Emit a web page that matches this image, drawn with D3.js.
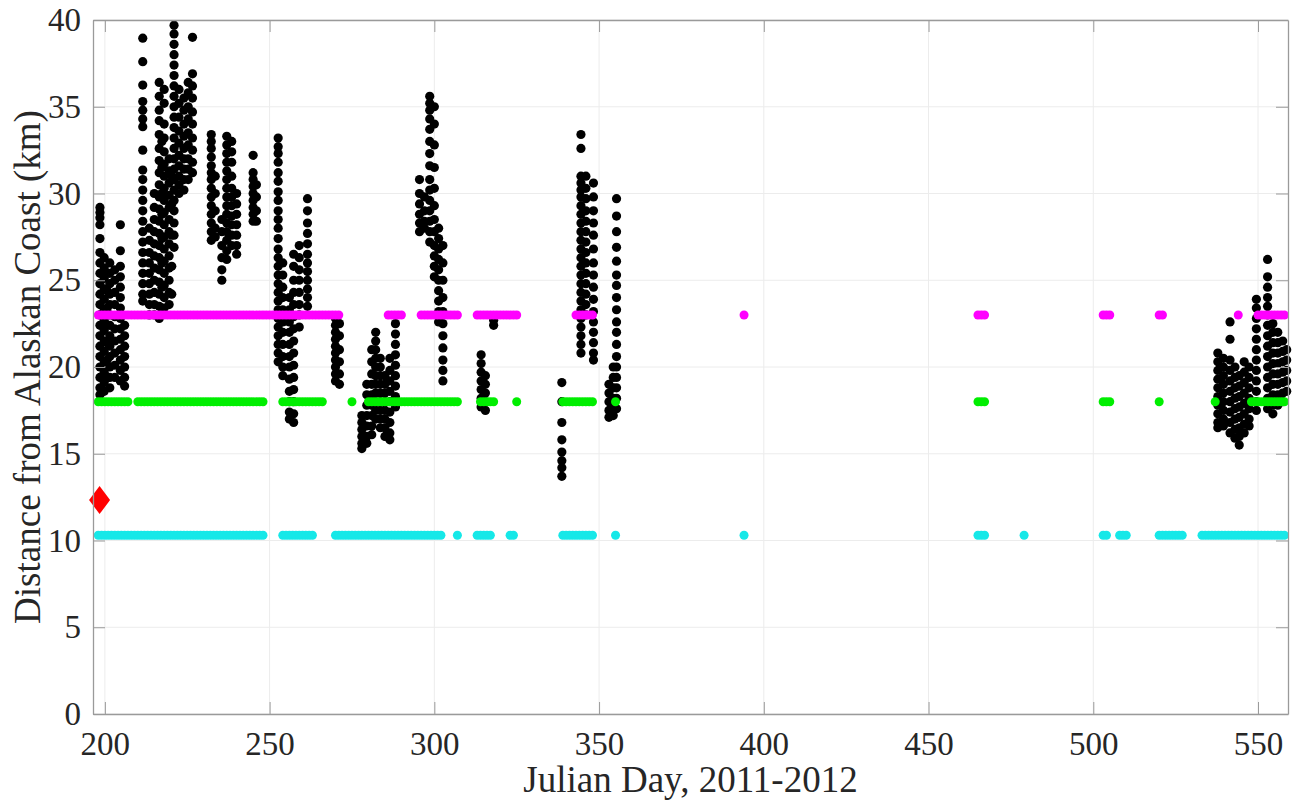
<!DOCTYPE html>
<html><head><meta charset="utf-8">
<script src="https://cdn.jsdelivr.net/npm/d3@7"></script>
<style>
html,body{margin:0;padding:0;background:#fff;}
svg{display:block;}
text{font-family:"Liberation Serif","Times New Roman",Times,serif;}
</style></head>
<body><svg id="chart" width="1297" height="804"></svg>
<script>
// ---------- data ----------
const xTicks = [200, 250, 300, 350, 400, 450, 500, 550];
const yTicks = [0, 5, 10, 15, 20, 25, 30, 35, 40];
const xLabel = "Julian Day, 2011-2012";
const yLabel = "Distance from Alaskan Coast (km)";

// black points: day of each column and the distances measured that day
const blackDays = [198.5,199.8,200.7,201.5,203,204.7,206,211.5,213.5,215,216.5,217.3,218,219.5,220.3,221,222.5,224,225.3,226.6,
  232.3,233.5,235.5,237,238.5,240,245,246,252.6,254,256,257.3,259,261.5,270,271.2,278,279.5,281,282.2,283.6,285,286.5,288.2,
  295.5,297,298.6,300,301.3,302.6,314.2,315.5,318,338.7,344.5,346,348.3,353,354.3,355.3,
  537.8,539.5,541.5,543,544.3,545.8,547.3,549.5,552.9,554.5,556,557.5,558.7];
const blackValues = [
  [29.2,28.9,28.6,28.2,27.4,26.6,26.0,25.4,24.8,24.2,23.6,23.0,22.4,21.8,21.2,20.6,20.0,19.4,18.8,18.4],
  [26.3,25.7,25.1,24.5,23.9,23.3,22.7,22.1,21.5,20.9,20.3,19.7,19.1,18.6],
  [25.4,24.4,23.4,22.4,21.4,20.4,19.4],
  [26.0,25.4,24.8,24.2,23.6,23.0,22.4,21.8,21.2,20.6,20.0,19.4,18.8],
  [25.6,25.0,24.3,23.6,22.9,22.2,21.5,20.8,20.1,19.4],
  [28.2,26.7,25.8,25.2,24.6,24.0,23.4,22.8,22.2,21.6,21.0,20.4,19.8,19.2],
  [22.4,21.8,21.2,20.6,20.0,19.4,18.9],
  [38.95,37.6,36.25,35.3,34.8,34.3,33.85,32.5,31.35,30.8,30.2,29.6,29.0,28.4,27.8,27.2,26.6,26.0,25.4,24.8,24.2,23.8],
  [28.0,27.3,26.6,26.0,25.4,24.8,24.2,23.6,23.0],
  [30.0,29.2,28.5,27.8,27.1,26.4,25.7,25.0,24.3,23.6,23.0],
  [36.4,35.6,34.8,34.2,33.4,32.6,31.9,31.2,30.5,29.8,29.1,28.4,27.7,27.0,26.3,25.6,24.9,24.2,23.5,22.8],
  [33.0,31.5,30.0,28.8,27.4,26.0,24.6,23.4],
  [36.0,35.2,34.0,33.2,32.4,31.7,31.0,30.3,29.6,28.9,28.2,27.5,26.8,26.1,25.4,24.7,24.0,23.4],
  [32.0,31.3,30.6,29.9,29.2,28.5,27.8,27.1,26.4,25.7,25.0,24.3,23.6],
  [31.0,29.4,27.6,25.8,24.2],
  [39.7,39.2,38.6,38.0,37.4,36.8,36.2,35.6,35.0,34.4,33.8,33.2,32.6,32.0,31.4,30.8,30.2,29.6,29.0,28.3,27.6,26.9],
  [36.0,35.2,34.4,33.6,32.9,32.2,31.6,31.0,30.5,30.0],
  [35.5,34.8,34.0,33.3,32.6,32.0,31.4,30.8,30.2],
  [36.4,35.8,35.0,34.3,33.5,32.8,32.0,31.4,30.8],
  [39.0,36.9,36.2,35.5,34.7,34.0,33.2,32.5,31.8,31.2],
  [33.4,33.0,32.6,32.1,31.6,31.2,30.8,30.3,29.8,29.3,28.8,28.3,27.8,27.3],
  [31.0,30.0,29.0,28.0,27.5],
  [28.5,27.8,27.0,26.3,25.6,25.0],
  [33.3,32.8,32.3,31.8,31.3,30.8,30.3,29.8,29.3,28.8,28.3,27.8,27.3,26.7,26.2],
  [33.0,32.4,31.8,31.0,30.3,29.8,29.3,28.7,28.2,27.6,27.0],
  [30.0,29.4,28.8,28.2,27.6,27.0,26.5],
  [32.2,31.2,30.8,30.4,30.0,29.6,29.2,28.8,28.4],
  [30.5,29.8,29.0,28.4],
  [33.2,32.7,32.3,31.8,31.2,30.7,30.1,29.6,29.0,28.5,28.0,27.4,26.8,26.3,25.8,25.3,24.8,24.3,23.8,23.3,22.8,22.3,21.8,21.3,20.8,20.3],
  [26.0,25.3,24.6,24.0,23.3,22.6,22.0,21.3,20.6,20.0,19.5],
  [24.0,23.3,22.6,22.0,21.3,20.6,20.0,19.3,18.6,18.0,17.4,17.0],
  [26.5,25.8,25.0,24.3,23.6,22.9,22.2,21.5,20.8,20.1,19.4,18.7,18.0,17.3,16.8],
  [27.0,26.3,25.6,25.0,24.3,23.6,23.0,22.3],
  [29.7,29.0,28.3,27.7,27.1,26.5,26.0,25.5,25.0,24.5,24.0,23.5],
  [22.8,22.4,22.0,21.6,21.2,20.8,20.4,20.0,19.6,19.2],
  [22.5,21.8,21.0,20.3,19.6,19.0],
  [17.2,16.8,16.4,16.0,15.6,15.3],
  [19.0,18.4,17.8,17.2,16.6,16.0,15.6],
  [21.0,20.3,19.6,19.0,18.4,17.8,17.2,16.6,16.1],
  [22.0,21.5,21.0,20.5,20.0,19.5,19.0,18.5,18.0,17.5,17.0],
  [20.5,20.0,19.5,19.0,18.5,18.0,17.5,17.0,16.5],
  [19.5,19.0,18.5,18.0,17.5,17.0,16.5,16.0],
  [20.5,19.8,19.2,18.6,18.0,17.4,16.8,16.2,15.8],
  [22.5,21.9,21.3,20.7,20.1,19.5,18.9,18.3,17.7],
  [30.8,30.0,29.4,28.8,28.3,27.8],
  [29.8,29.0,28.4,28.0],
  [35.6,35.2,34.8,34.3,33.7,33.0,32.3,31.6,30.8,30.2,29.6,29.0,28.4,27.8,27.2],
  [35.0,34.0,32.8,31.5,30.3,29.3,28.5,27.8,27.0,26.4,25.8,25.2],
  [28.0,27.4,26.8,26.2,25.6,25.0,24.4,23.8,23.2,22.6],
  [27.0,26.0,25.0,24.0,23.2,22.5,21.8,21.1,20.4,19.8,19.2],
  [20.7,20.2,19.7,19.2,18.7,18.2,17.7],
  [19.5,19.0,18.5,18.0,17.5],
  [22.7,22.4],
  [19.1,18.0,16.8,15.8,15.1,14.6,14.2,13.7],
  [33.4,32.6,31.0,30.6,30.2,29.8,29.3,28.8,28.3,27.8,27.3,26.8,26.3,25.8,25.3,24.8,24.3,23.8,23.3,22.8,22.3,21.8,21.3,20.8],
  [31.0,30.3,29.7,29.0,28.4,27.8,27.2,26.6,26.0,25.4,24.8,24.2,23.6,23.0],
  [30.6,29.8,29.0,28.3,27.6,26.8,26.0,25.3,24.6,23.9,23.2,22.6,22.0,21.4,20.8,20.4],
  [19.0,18.5,18.0,17.5,17.1],
  [20.0,19.4,18.8,18.2,17.6,17.2],
  [29.7,28.7,27.8,26.9,26.1,25.3,24.7,24.0,23.3,22.6,22.0,21.3,20.6,20.0,19.4,18.8,18.2,17.6],
  [20.8,20.3,19.8,19.3,18.8,18.3,17.8,17.3,16.8,16.5],
  [20.5,20.0,19.5,19.0,18.5,18.0,17.5,17.0,16.6],
  [22.6,21.6,20.4,19.8,19.2,18.6,18.0,17.4,16.8,16.2],
  [20.0,19.4,18.8,18.2,17.6,17.0,16.4,15.9],
  [19.5,18.9,18.3,17.7,17.1,16.5,16.0,15.5],
  [20.3,19.7,19.1,18.5,17.9,17.3,16.7,16.2],
  [20.0,19.4,18.8,18.2,17.6,17.0,16.6],
  [23.9,23.4,22.8,22.2,21.6,21.0,20.4,19.8,19.2,18.6,18.0,17.5],
  [26.2,25.2,24.6,24.0,23.5,23.0,22.4,21.8,21.2,20.6,20.0,19.4,18.8,18.2,17.6],
  [22.5,22.0,21.4,20.8,20.2,19.6,19.0,18.4,17.8,17.3],
  [22.0,21.4,20.8,20.2,19.6,19.0,18.4,17.8],
  [21.5,20.9,20.3,19.7,19.1,18.5,18.0],
  [21.0,20.4,19.8,19.2,18.6]
];

// coloured reference rows: constant distance, days on which they are plotted
const magentaValue = 23.0;
const magentaDays = [198,199,200,201,202,203,204,205,206,207,208,209,210,211,212,213,214,215,216,217,218,219,220,221,222,223,224,225,226,227,228,229,230,231,232,233,234,235,236,237,238,239,240,241,242,243,244,245,246,247,248,249,250,251,252,253,254,255,256,257,258,259,260,261,262,263,264,265,266,267,268,269,270,271,
  286,287,288,289,290,296,297,298,299,300,301,302,303,304,305,306,307,313,314,315,316,317,318,319,320,321,322,323,324,325,
  343,344,345,346,347,348,394,465,466,467,503,504,505,520,521,544,550,551,552,553,554,555,556,557,558];
const greenValue = 18.0;
const greenDays = [198,199,200,201,202,203,204,205,206,207,210,211,212,213,214,215,216,217,218,219,220,221,222,223,224,225,226,227,228,229,230,231,232,233,234,235,236,237,238,239,240,241,242,243,244,245,246,247,248,
  254,255,256,257,258,259,260,261,262,263,264,265,266,275,280,281,282,283,284,285,286,287,288,289,290,291,292,293,294,295,296,297,298,299,300,301,302,303,304,305,306,307,
  314,315,316,317,318,325,339,340,341,342,343,344,345,346,347,348,355,465,466,467,503,504,505,520,537,548,549,550,551,552,553,554,555,556,557,558];
const cyanValue = 10.3;
const cyanDays = [198,199,200,201,202,203,204,205,206,207,208,209,210,211,212,213,214,215,216,217,218,219,220,221,222,223,224,225,226,227,228,229,230,231,232,233,234,235,236,237,238,239,240,241,242,243,244,245,246,247,248,
  254,255,256,257,258,259,260,261,262,263,270,271,272,273,274,275,276,277,278,279,280,281,282,283,284,285,286,287,288,289,290,291,292,293,294,295,296,297,298,299,300,301,302,
  307,313,314,315,316,317,323,324,339,340,341,342,343,344,345,346,347,348,355,394,465,466,467,479,503,504,508,509,510,520,521,522,523,524,525,526,527,
  533,534,535,536,537,538,539,540,541,542,543,544,545,546,547,548,549,550,551,552,553,554,555,556,557,558];
const redPoint = [198.4, 12.33];

// ---------- chart ----------
const L = 93, R = 1288, T = 20, B = 714;
const svg = d3.select("#chart");
const x = d3.scaleLinear().domain([196.4, 559.1]).range([L, R]);
const y = d3.scaleLinear().domain([0, 40]).range([B, T]);

const axisCol = "#9a9a9a", gridCol = "#ececec", textCol = "#262626";

// grid
const grid = svg.append("g");
grid.selectAll("line.gx").data(xTicks).join("line")
  .attr("x1", d => x(d)).attr("x2", d => x(d)).attr("y1", T).attr("y2", B)
  .attr("stroke", gridCol).attr("stroke-width", 1);
grid.selectAll("line.gy").data(yTicks).join("line")
  .attr("x1", L).attr("x2", R).attr("y1", d => y(d)).attr("y2", d => y(d))
  .attr("stroke", gridCol).attr("stroke-width", 1);

// black points
const blackPts = [];
blackDays.forEach((d, i) => blackValues[i].forEach(v => blackPts.push([d, v])));
svg.append("g").selectAll("circle").data(blackPts).join("circle")
  .attr("cx", d => x(d[0])).attr("cy", d => y(d[1])).attr("r", 4.6).attr("fill", "#000");

function row(days, val, col) {
  svg.append("g").selectAll("circle").data(days).join("circle")
    .attr("cx", d => x(d)).attr("cy", y(val)).attr("r", 4.5).attr("fill", col);
}
row(magentaDays, magentaValue, "#ff00ff");
row(greenDays, greenValue, "#00ee00");
row(cyanDays, cyanValue, "#16e8e8");

// red diamond
const rx = x(redPoint[0]), ry = y(redPoint[1]);
svg.append("path")
  .attr("d", `M${rx},${ry-14}L${rx+10.5},${ry}L${rx},${ry+14}L${rx-10.5},${ry}Z`)
  .attr("fill", "#ff0000");

// axes (box + inward ticks)
const tl = 12;
const ax = svg.append("g");
const xAxB = d3.axisBottom(x).tickValues(xTicks).tickSizeInner(-tl).tickSizeOuter(0).tickPadding(18);
const gxb = ax.append("g").attr("transform", `translate(0,${B})`).call(xAxB);
const xAxT = d3.axisTop(x).tickValues(xTicks).tickSizeInner(-tl).tickSizeOuter(0).tickFormat("");
ax.append("g").attr("transform", `translate(0,${T})`).call(xAxT);
const yAxL = d3.axisLeft(y).tickValues(yTicks).tickSizeInner(-tl).tickSizeOuter(0).tickPadding(12);
ax.append("g").attr("transform", `translate(${L},0)`).call(yAxL);
const yAxR = d3.axisRight(y).tickValues(yTicks).tickSizeInner(-tl).tickSizeOuter(0).tickFormat("");
ax.append("g").attr("transform", `translate(${R},0)`).call(yAxR);
ax.selectAll(".domain").attr("stroke", axisCol).attr("stroke-width", 1.3);
ax.selectAll(".tick line").attr("stroke", axisCol).attr("stroke-width", 1);
ax.selectAll(".tick text").attr("fill", textCol).style("font-family", '"Liberation Serif", serif').style("font-size", "33px");
gxb.selectAll(".tick text").attr("dy", "0.71em");

// axis titles
svg.append("text").attr("x", (L + R) / 2).attr("y", 792).attr("text-anchor", "middle")
  .attr("fill", textCol).style("font-size", "37px").text(xLabel);
svg.append("text").attr("transform", `translate(40,${(T + B) / 2}) rotate(-90)`).attr("text-anchor", "middle")
  .attr("fill", textCol).style("font-size", "37px").text(yLabel);
</script></body></html>
